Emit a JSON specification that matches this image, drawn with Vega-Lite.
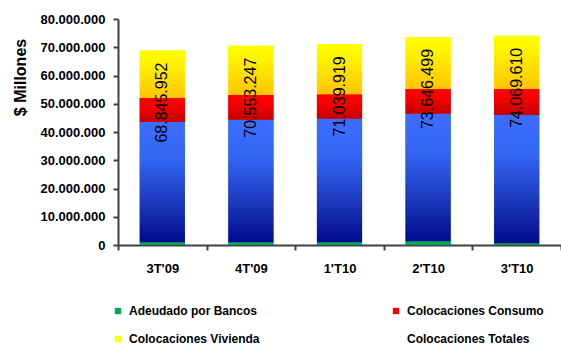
{
  "$schema": "https://vega.github.io/schema/vega-lite/v6.json",
  "autosize": {"type": "none"},
  "width": 443,
  "height": 226,
  "padding": {"left": 118, "top": 19, "right": 0, "bottom": 100},
  "background": "white",
  "config": {
    "locale": {"number": {"decimal": ",", "thousands": ".", "grouping": [3], "currency": ["$", ""]}},
    "view": {"stroke": null},
    "font": "Liberation Sans"
  },
  "data": {
    "values": [
      {"periodo": "3T'09", "serie": "Adeudado por Bancos", "valor": 950000},
      {"periodo": "3T'09", "serie": "Colocaciones Comerciales", "valor": 42550000},
      {"periodo": "3T'09", "serie": "Colocaciones Consumo", "valor": 8500000},
      {"periodo": "3T'09", "serie": "Colocaciones Vivienda", "valor": 16845952},
      {"periodo": "4T'09", "serie": "Adeudado por Bancos", "valor": 1000000},
      {"periodo": "4T'09", "serie": "Colocaciones Comerciales", "valor": 43300000},
      {"periodo": "4T'09", "serie": "Colocaciones Consumo", "valor": 8800000},
      {"periodo": "4T'09", "serie": "Colocaciones Vivienda", "valor": 17453247},
      {"periodo": "1'T10", "serie": "Adeudado por Bancos", "valor": 950000},
      {"periodo": "1'T10", "serie": "Colocaciones Comerciales", "valor": 43750000},
      {"periodo": "1'T10", "serie": "Colocaciones Consumo", "valor": 8700000},
      {"periodo": "1'T10", "serie": "Colocaciones Vivienda", "valor": 17639919},
      {"periodo": "2'T10", "serie": "Adeudado por Bancos", "valor": 1300000},
      {"periodo": "2'T10", "serie": "Colocaciones Comerciales", "valor": 45200000},
      {"periodo": "2'T10", "serie": "Colocaciones Consumo", "valor": 8700000},
      {"periodo": "2'T10", "serie": "Colocaciones Vivienda", "valor": 18446499},
      {"periodo": "3'T10", "serie": "Adeudado por Bancos", "valor": 600000},
      {"periodo": "3'T10", "serie": "Colocaciones Comerciales", "valor": 45400000},
      {"periodo": "3'T10", "serie": "Colocaciones Consumo", "valor": 9200000},
      {"periodo": "3'T10", "serie": "Colocaciones Vivienda", "valor": 18869610}
    ]
  },
  "transform": [
    {"stack": "valor", "groupby": ["periodo"], "sort": [{"field": "serie", "order": "ascending"}], "as": ["v0", "v1"]},
    {"joinaggregate": [{"op": "sum", "field": "valor", "as": "total"}], "groupby": ["periodo"]}
  ],
  "encoding": {
    "x": {
      "field": "periodo",
      "type": "nominal",
      "sort": null,
      "scale": {"paddingInner": 0, "paddingOuter": 0},
      "axis": {
        "title": null,
        "labelAngle": 0,
        "tickBand": "extent",
        "domainColor": "#404040",
        "domainWidth": 2,
        "tickColor": "#404040",
        "tickWidth": 2,
        "tickSize": 5,
        "labelFont": "Liberation Sans",
        "labelFontWeight": "bold",
        "labelFontSize": 13,
        "labelColor": "#000000",
        "labelPadding": 12
      }
    },
    "y": {
      "field": "v1",
      "type": "quantitative",
      "scale": {"domain": [0, 80000000], "nice": false},
      "axis": {
        "title": "$ Millones",
        "values": [0, 10000000, 20000000, 30000000, 40000000, 50000000, 60000000, 70000000, 80000000],
        "format": ",d",
        "labelOverlap": false,
        "labelFlush": false,
        "grid": false,
        "domainColor": "#404040",
        "domainWidth": 2,
        "tickColor": "#404040",
        "tickWidth": 2,
        "tickSize": 5,
        "labelFont": "Liberation Sans",
        "labelFontWeight": "bold",
        "labelFontSize": 13,
        "labelColor": "#000000",
        "labelPadding": 8,
        "titleFont": "Liberation Sans",
        "titleFontSize": 16,
        "titleFontWeight": "bold",
        "titleColor": "#000000",
        "titleAngle": 270,
        "titleAlign": "center",
        "titleBaseline": "middle",
        "titleX": -98,
        "titleY": 58
      }
    }
  },
  "layer": [
    {
      "mark": {"type": "bar", "width": {"band": 0.51}},
      "encoding": {
        "y2": {"field": "v0"},
        "color": {
          "field": "serie",
          "type": "nominal",
          "scale": {
            "domain": ["Adeudado por Bancos", "Colocaciones Consumo", "Colocaciones Vivienda", "Colocaciones Totales", "Colocaciones Comerciales"],
            "range": ["#00a651", "#ff0000", "#ffff00", "transparent", "#3366ff"]
          },
          "legend": {
            "values": ["Adeudado por Bancos", "Colocaciones Vivienda", "Colocaciones Consumo", "Colocaciones Totales"],
            "title": null,
            "orient": "none",
            "legendX": -6,
            "legendY": 286,
            "columns": 2,
            "columnPadding": 130,
            "rowPadding": 16,
            "symbolType": "square",
            "symbolSize": 40,
            "labelOffset": 5,
            "labelFont": "Liberation Sans",
            "labelFontSize": 12,
            "labelFontWeight": "bold",
            "labelColor": "#000000",
            "labelLimit": 300
          }
        }
      }
    },
    {
      "mark": {"type": "bar", "width": {"band": 0.51}},
      "encoding": {
        "y2": {"field": "v0"},
        "fill": {
          "condition": [
            {"test": "datum.serie === 'Colocaciones Vivienda'", "value": {"gradient": "linear", "x1": 0, "y1": 0, "x2": 0, "y2": 1, "stops": [{"offset": 0, "color": "#ffff00"}, {"offset": 0.3, "color": "#fff200"}, {"offset": 1, "color": "#ffc400"}]}},
            {"test": "datum.serie === 'Colocaciones Consumo'", "value": {"gradient": "linear", "x1": 0, "y1": 0, "x2": 0, "y2": 1, "stops": [{"offset": 0, "color": "#ff0000"}, {"offset": 0.4, "color": "#f50000"}, {"offset": 1, "color": "#c40000"}]}},
            {"test": "datum.serie === 'Colocaciones Comerciales'", "value": {"gradient": "linear", "x1": 0, "y1": 0, "x2": 0, "y2": 1, "stops": [{"offset": 0, "color": "#3d6dff"}, {"offset": 0.3, "color": "#3366f5"}, {"offset": 0.7, "color": "#1a35b8"}, {"offset": 1, "color": "#000a8c"}]}}
          ],
          "value": "#00a651"
        }
      }
    },
    {
      "transform": [{"filter": "datum.serie === 'Colocaciones Vivienda'"}],
      "mark": {"type": "text", "angle": 270, "align": "right", "baseline": "middle", "dx": -12, "fontSize": 16, "font": "Liberation Sans", "color": "#000000"},
      "encoding": {
        "text": {"field": "total", "type": "quantitative", "format": ",d"}
      }
    }
  ]
}
